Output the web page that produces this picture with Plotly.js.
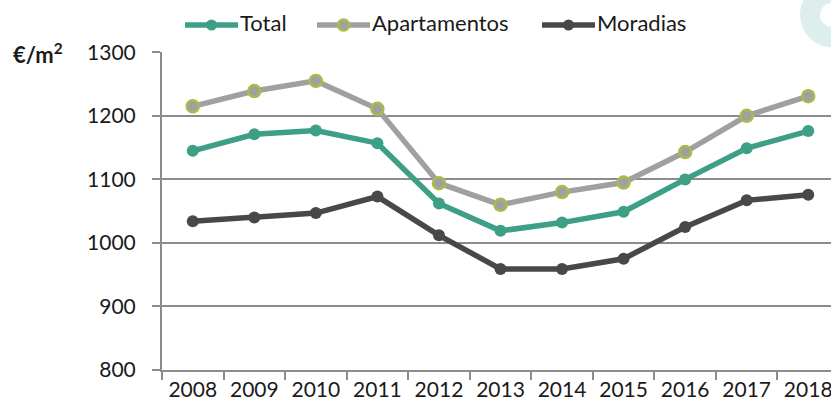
<!DOCTYPE html>
<html>
<head>
<meta charset="utf-8">
<script src="https://cdn.plot.ly/plotly-3.0.1.min.js"></script>
<style>
  html, body { margin: 0; padding: 0; background: #ffffff; }
  #chart { width: 831px; height: 410px; }
</style>
</head>
<body>
<div id="chart"></div>
<script>
// Preço médio por m2 (€/m2), 2008-2018
const anos = ['2008', '2009', '2010', '2011', '2012', '2013', '2014', '2015', '2016', '2017', '2018'];
const total = [1145, 1171, 1177, 1157, 1062, 1019, 1032, 1049, 1100, 1149, 1176];
const apartamentos = [1215, 1239, 1255, 1211, 1094, 1060, 1080, 1095, 1143, 1200, 1231];
const moradias = [1034, 1040, 1047, 1073, 1012, 959, 959, 975, 1025, 1067, 1076];
const nomes = ['Total', 'Apartamentos', 'Moradias'];
const valoresY = [800, 900, 1000, 1100, 1200, 1300];

const fonte = 'Lato, "Open Sans", sans-serif';
const cores = ['#3d9f85', '#a0a0a0', '#484848'];
const bordas = ['#3d9f85', '#a9bb4c', '#484848'];

// área do gráfico em pixels (para converter a legenda)
const margem = { l: 162, r: 0, t: 52, b: 40 };
const larguraArea = 831 - margem.l - margem.r;
const alturaArea = 410 - margem.t - margem.b;
const px = v => (v - margem.l) / larguraArea;
const py = v => (410 - margem.b - v) / alturaArea;

const series = [total, apartamentos, moradias];
const data = series.map((valores, i) => ({
    x: anos, y: valores, name: nomes[i], type: 'scatter', mode: 'lines+markers',
    showlegend: false,
    line: { color: cores[i], width: 5.5 },
    marker: { color: cores[i], size: 12, line: { color: bordas[i], width: i === 1 ? 2.5 : 0 } }
}));

// legenda desenhada à mão (linha + marcador + texto)
const inicioLegenda = [185, 317, 542];
const shapes = [];
const annotations = [];
inicioLegenda.forEach((x0, i) => {
    shapes.push({
        type: 'line', xref: 'paper', yref: 'paper',
        x0: px(x0), x1: px(x0 + 53), y0: py(25), y1: py(25),
        line: { color: cores[i], width: 5.5 }
    });
    shapes.push({
        type: 'circle', xref: 'paper', yref: 'paper',
        xsizemode: 'pixel', ysizemode: 'pixel',
        xanchor: px(x0 + 26.5), yanchor: py(25),
        x0: -5.5, x1: 5.5, y0: -5.5, y1: 5.5,
        fillcolor: cores[i], line: { color: bordas[i], width: i === 1 ? 2.5 : 0 }
    });
    annotations.push({
        xref: 'paper', yref: 'paper', x: px(x0 + 55), y: py(23),
        xanchor: 'left', yanchor: 'middle', showarrow: false, xshift: -2,
        text: nomes[i],
        font: { family: fonte, size: 22, color: '#1a1a1a' }
    });
});

annotations.push({
    xref: 'paper', yref: 'paper', x: px(13), y: py(53),
    xanchor: 'left', yanchor: 'middle', showarrow: false, xshift: -2,
    text: '<b>€/m<sup>2</sup></b>',
    font: { family: fonte, size: 22, color: '#1a1a1a' }
});

// marca de água no canto superior direito
shapes.push({
    type: 'circle', xref: 'paper', yref: 'paper', layer: 'below',
    x0: px(810), x1: px(854), y0: py(37), y1: py(-7),
    line: { color: '#ddeeee', width: 20 }
});

const layout = {
    width: 831,
    height: 410,
    margin: margem,
    paper_bgcolor: '#ffffff',
    plot_bgcolor: '#ffffff',
    font: { family: fonte, size: 21, color: '#1a1a1a' },
    showlegend: false,
    xaxis: {
        type: 'category',
        range: [-0.5, 10.37],
        showline: true, linecolor: '#8c8c8c', linewidth: 2,
        ticks: 'outside', tickson: 'boundaries', ticklen: 8, tickcolor: '#8c8c8c', tickwidth: 2,
        showgrid: false,
        tickfont: { family: fonte, size: 21, color: '#1a1a1a' }
    },
    yaxis: {
        range: [800, 1300.5],
        tickvals: valoresY,
        showline: true, linecolor: '#8c8c8c', linewidth: 2,
        ticks: 'outside', ticklen: 8, tickcolor: '#8c8c8c', tickwidth: 2,
        ticklabelstandoff: 12,
        showgrid: true, gridcolor: '#8c8c8c', gridwidth: 2,
        zeroline: false,
        tickfont: { family: fonte, size: 21, color: '#1a1a1a' }
    },
    annotations: annotations,
    shapes: shapes
};

Plotly.newPlot('chart', data, layout, { displayModeBar: false, staticPlot: true });
</script>
</body>
</html>
